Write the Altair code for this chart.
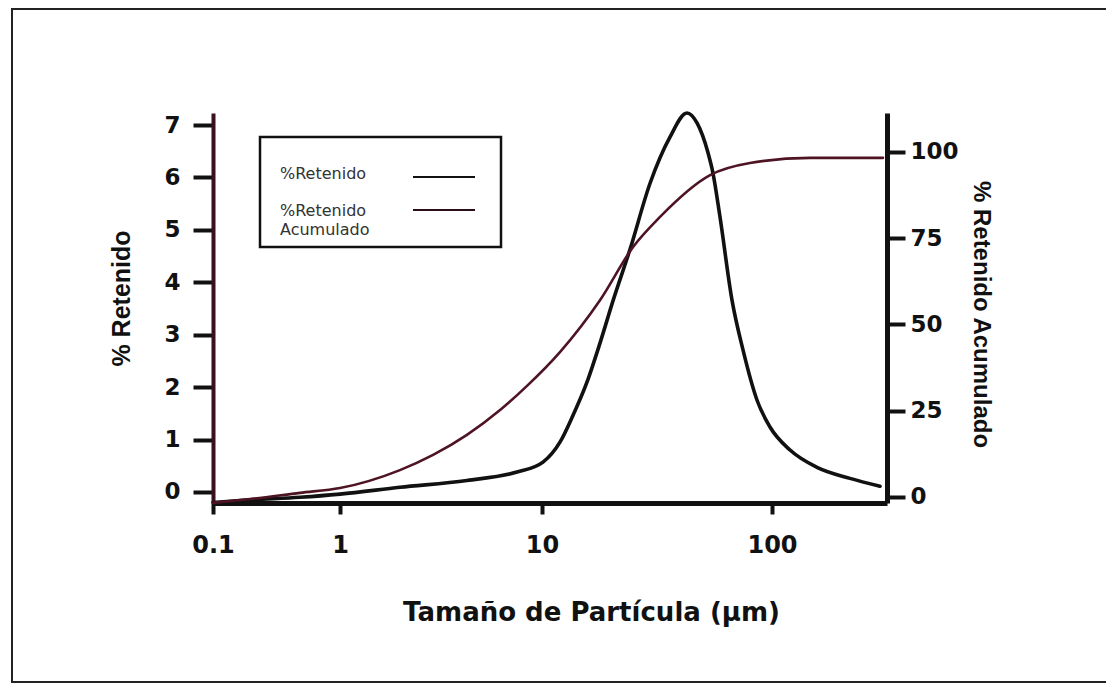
import altair as alt
import pandas as pd

# ---- data ----
ret_x = [0.1, 0.196, 0.484, 1.0, 1.98, 4.25, 7.52, 10.1, 11.97, 13.6, 15.7, 17.9,
         20.4, 24.1, 29.5, 36.0, 42.7, 47.2, 52.7, 55.4, 59.4, 67.0, 74.8, 86.1,
         98.0, 118.8, 153.7, 210.6, 280.5]
ret_y = [-0.2, -0.15, -0.10, -0.04, 0.09, 0.22, 0.38, 0.57, 0.95, 1.45, 2.10, 2.85,
         3.66, 4.62, 5.89, 6.77, 7.23, 7.04, 6.47, 6.08, 5.25, 3.66, 2.71, 1.75,
         1.24, 0.80, 0.47, 0.26, 0.11]

acu_x = [0.1, 0.196, 0.484, 1.0, 1.98, 2.89, 4.25, 6.2, 8.43, 11.97, 17.9, 24.9,
         32.6, 53.8, 80.2, 143.8, 288.8]
acu_y = [-1.7, -0.6, 1.2, 2.6, 7.8, 12.2, 18.0, 25.2, 32.2, 42.0, 57.1, 72.5,
         81.2, 93.3, 96.8, 98.3, 98.3]

x_ticks = [0.1, 1, 10, 100]
left_ticks = [0, 1, 2, 3, 4, 5, 6, 7]
right_ticks = [0, 25, 50, 75, 100]

x_title = "Tamaño de Partícula (µm)"
left_title = "% Retenido"
right_title = "% Retenido Acumulado"
legend_labels = ["%Retenido", "%Retenido\nAcumulado"]

W, H = 674, 390

df_ret = pd.DataFrame({"x": ret_x, "y": ret_y})
df_acu = pd.DataFrame({"x": acu_x, "y": acu_y})

x_scale = alt.Scale(type="log", domain=[0.1, 1, 10, 100, 300],
                    range=[0, 127, 329, 559, W], nice=False)

BOLD = "DejaVu Sans"

x_axis = alt.Axis(values=x_ticks, format="~g", title=x_title,
                  domainColor="#111", domainWidth=5, tickColor="#111", tickWidth=4,
                  tickSize=11, labelPadding=19, labelFont=BOLD, labelFontSize=24,
                  labelFontWeight="bold", labelColor="#111",
                  titleFont=BOLD, titleFontSize=26, titleFontWeight="bold",
                  titleColor="#111", titleX=378, titleY=109, titleBaseline="middle",
                  titleAlign="center", grid=False, labelFlush=False)

left_axis = alt.Axis(values=left_ticks, format="d", title=left_title,
                     domainColor="#3b1020", domainWidth=4, tickColor="#111", tickWidth=4,
                     tickSize=20, labelPadding=13, labelFont=BOLD, labelFontSize=23,
                     labelFontWeight="bold", labelColor="#111",
                     titleFont="Liberation Sans", titleFontSize=25, titleFontWeight="bold",
                     titleColor="#111", titleAngle=270, titleX=-92, titleY=185,
                     titleBaseline="middle", titleAlign="center", grid=False)

right_axis = alt.Axis(values=right_ticks, format="d", title=right_title, orient="right",
                      domainColor="#111", domainWidth=5, tickColor="#111", tickWidth=4,
                      tickSize=18, labelPadding=5, labelFont=BOLD, labelFontSize=23,
                      labelFontWeight="bold", labelColor="#111",
                      titleFont="Liberation Sans", titleFontSize=24, titleFontWeight="bold",
                      titleColor="#111", titleAngle=90, titleX=93, titleY=201,
                      titleBaseline="middle", titleAlign="center", grid=False)

ret_line = alt.Chart(df_ret).mark_line(
    color="#111111", strokeWidth=3.6, interpolate="monotone", strokeCap="round"
).encode(
    x=alt.X("x:Q", scale=x_scale, axis=x_axis),
    y=alt.Y("y:Q", scale=alt.Scale(domain=[-0.21, 7.23], nice=False, zero=False),
            axis=left_axis),
)

acu_line = alt.Chart(df_acu).mark_line(
    color="#4e1424", strokeWidth=2.6, interpolate="monotone", strokeCap="round"
).encode(
    x=alt.X("x:Q", scale=x_scale),
    y=alt.Y("y:Q", scale=alt.Scale(domain=[-1.74, 111.3], nice=False, zero=False),
            axis=right_axis),
)

one = alt.Data(values=[{}])

frame = alt.Chart(one).mark_rect(fillOpacity=0, stroke="#222", strokeWidth=2).encode(
    x=alt.value(-201), x2=alt.value(W + 220), y=alt.value(-104), y2=alt.value(H + 179)
)

legend_box = alt.Chart(one).mark_rect(fill="white", stroke="#111", strokeWidth=2.5).encode(
    x=alt.value(47), x2=alt.value(288), y=alt.value(24), y2=alt.value(134)
)

leg_text1 = alt.Chart(one).mark_text(
    text=legend_labels[0], align="left", baseline="middle", font="DejaVu Sans",
    fontSize=16, color="#333"
).encode(x=alt.value(67), y=alt.value(61))

leg_text2 = alt.Chart(one).mark_text(
    text=legend_labels[1], align="left", baseline="middle", font="DejaVu Sans",
    fontSize=16, color="#333", lineBreak="\n", lineHeight=19
).encode(x=alt.value(67), y=alt.value(98))

leg_rule1 = alt.Chart(one).mark_rule(color="#111", strokeWidth=2).encode(
    x=alt.value(200), x2=alt.value(262), y=alt.value(64)
)
leg_rule2 = alt.Chart(one).mark_rule(color="#2a0e16", strokeWidth=2).encode(
    x=alt.value(200), x2=alt.value(262), y=alt.value(97)
)

chart = alt.layer(
    frame, ret_line, acu_line, legend_box, leg_text1, leg_text2, leg_rule1, leg_rule2
).resolve_scale(y="independent").properties(
    width=W, height=H,
    autosize=alt.AutoSizeParams(type="none"),
    padding={"left": 205, "top": 105, "right": 219, "bottom": 182},
    background="white",
).configure_view(stroke=None)

chart.save("out.html", embed_options={"renderer": "svg", "actions": False})
